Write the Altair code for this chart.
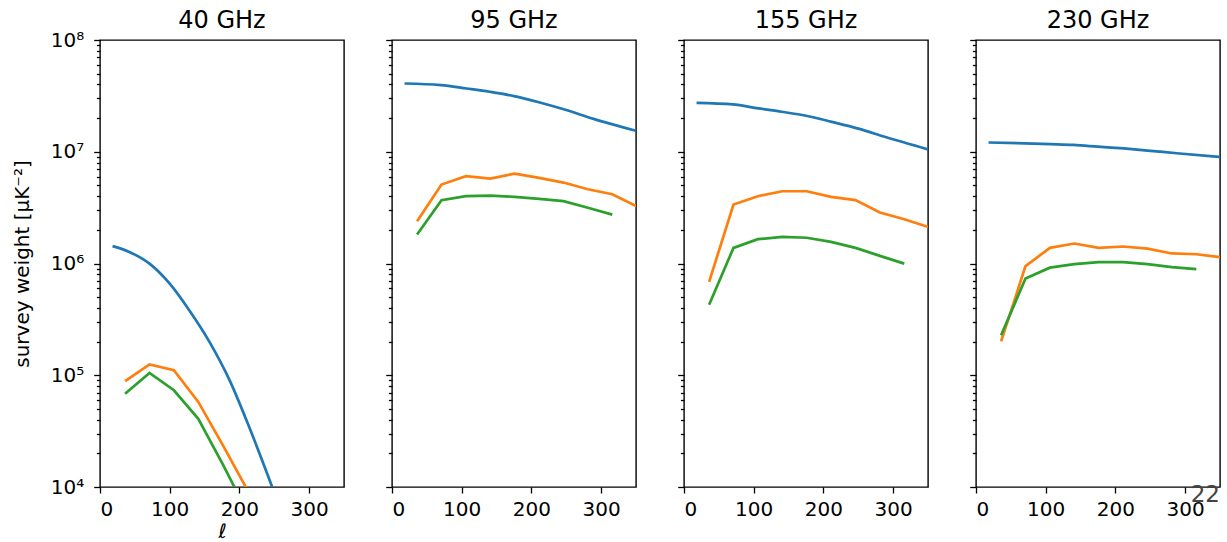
import altair as alt
import pandas as pd

# ---------------- data ----------------
PANELS = ["40 GHz", "95 GHz", "155 GHz", "230 GHz"]
SERIES = ["series 1", "series 2", "series 3"]
COLORS = ["#1f77b4", "#ff7f0e", "#2ca02c"]

# smooth (blue) curves
BLUE_ELL_40 = [18, 42, 71, 100, 128, 157, 186, 214, 247]
BLUE_40 = [1.43e6, 1.27e6, 9.97e5, 6.6e5, 3.82e5, 1.99e5, 9.0e4, 3.44e4, 1.0e4]
BLUE_ELL = [18, 70, 107, 140, 175, 212, 250, 288, 350]
BLUE_95 = [4.08e7, 3.95e7, 3.68e7, 3.44e7, 3.15e7, 2.76e7, 2.36e7, 1.98e7, 1.54e7]
BLUE_155 = [2.74e7, 2.65e7, 2.44e7, 2.28e7, 2.10e7, 1.85e7, 1.61e7, 1.36e7, 1.05e7]
BLUE_230 = [1.21e7, 1.19e7, 1.17e7, 1.15e7, 1.11e7, 1.07e7, 1.02e7, 9.7e6, 9.0e6]

# binned (orange, green) curves
BIN_ELL = [36, 71, 106, 141, 176, 211, 246, 281, 316, 351]
ORANGE_40 = [8.84e4, 1.25e5, 1.11e5, 5.77e4, 2.38e4, 9.5e3]
ORANGE_95 = [2.39e6, 5.09e6, 6.04e6, 5.75e6, 6.38e6, 5.83e6, 5.30e6, 4.62e6, 4.17e6, 3.25e6]
ORANGE_155 = [6.84e5, 3.37e6, 4.0e6, 4.43e6, 4.43e6, 3.95e6, 3.69e6, 2.86e6, 2.49e6, 2.12e6]
ORANGE_230 = [2.01e5, 9.46e5, 1.38e6, 1.51e6, 1.38e6, 1.42e6, 1.36e6, 1.23e6, 1.21e6, 1.14e6]
GREEN_40 = [6.84e4, 1.05e5, 7.34e4, 4.08e4, 1.6e4, 6.0e3]
GREEN_95 = [1.82e6, 3.69e6, 4.0e6, 4.05e6, 3.95e6, 3.79e6, 3.61e6, 3.15e6, 2.74e6]
GREEN_155 = [4.28e5, 1.38e6, 1.65e6, 1.73e6, 1.70e6, 1.56e6, 1.38e6, 1.17e6, 9.97e5]
GREEN_230 = [2.28e5, 7.33e5, 9.18e5, 9.86e5, 1.03e6, 1.03e6, 9.86e5, 9.27e5, 8.9e5]

X_TICKS = [0, 100, 200, 300]
PAGE_NUMBER = "22"

BLUE = [(BLUE_ELL_40, BLUE_40), (BLUE_ELL, BLUE_95), (BLUE_ELL, BLUE_155), (BLUE_ELL, BLUE_230)]
ORANGE = [ORANGE_40, ORANGE_95, ORANGE_155, ORANGE_230]
GREEN = [GREEN_40, GREEN_95, GREEN_155, GREEN_230]

# ---------------- chart ----------------
FONT = "DejaVu Sans"
W, H = 244, 447

y_tick_values = [m * 10 ** d for d in range(4, 8) for m in range(1, 10)] + [1e8]
MAJOR = "abs(log(datum.value)/LN10 - round(log(datum.value)/LN10)) < 0.001"
label_expr = (
    f"({MAJOR}) ? '10' + ['⁰','¹','²','³','⁴','⁵','⁶','⁷','⁸','⁹'][round(log(datum.value)/LN10)] : ''"
)

color = alt.Color("series:N", scale=alt.Scale(domain=SERIES, range=COLORS), legend=None)


def make_panel(i):
    bx, by = BLUE[i]
    blue_df = pd.DataFrame({"ell": bx, "w": by, "series": SERIES[0]})
    rows = []
    for s, vals in ((SERIES[1], ORANGE[i]), (SERIES[2], GREEN[i])):
        for e, v in zip(BIN_ELL, vals):
            rows.append({"ell": e, "w": v, "series": s})
    bin_df = pd.DataFrame(rows)

    x = alt.X(
        "ell:Q",
        scale=alt.Scale(domain=[0, 350], nice=False, zero=False),
        axis=alt.Axis(
            values=X_TICKS,
            title="ℓ" if i == 0 else None,
            titleFont=FONT,
            titleFontSize=20,
            titleFontStyle="italic",
            titleFontWeight="normal",
            titleColor="#000",
            titlePadding=2,
            tickSize=6,
            labelPadding=6,
            format="d",
        ),
    )
    y = alt.Y(
        "w:Q",
        scale=alt.Scale(type="log", domain=[1e4, 1e8], nice=False),
        axis=alt.Axis(
            values=y_tick_values,
            labels=(i == 0),
            labelExpr=label_expr,
            labelOverlap=False,
            labelPadding=10,
            tickSize={"condition": {"test": MAJOR, "value": 6.3}, "value": 3.6},
            title="survey weight [μK⁻²]" if i == 0 else None,
            titleFont=FONT,
            titleFontSize=20,
            titleFontWeight="normal",
            titleColor="#000",
            titlePadding=18,
        ),
    )

    blue = alt.Chart(blue_df).mark_line(
        interpolate="monotone", clip=True, strokeWidth=2.7
    ).encode(x=x, y=y, color=color)
    bins = alt.Chart(bin_df).mark_line(clip=True, strokeWidth=2.7).encode(
        x=x, y=y, color=color, detail="series:N"
    )
    title = alt.Chart(pd.DataFrame({"t": [PANELS[i]]})).mark_text(
        align="center", baseline="alphabetic", font=FONT, fontSize=24, color="#000"
    ).encode(text="t:N", x=alt.value(W / 2), y=alt.value(-12))
    layers = [blue, bins, title]
    if i == 3:
        txt = alt.Chart(pd.DataFrame({"t": [PAGE_NUMBER]})).mark_text(
            align="right", baseline="alphabetic", font=FONT, fontSize=23, color="#444"
        ).encode(text="t:N", x=alt.value(W), y=alt.value(462))
        layers.append(txt)
    return alt.layer(*layers).properties(width=W, height=H)


chart = (
    alt.hconcat(*[make_panel(i) for i in range(4)], spacing=48, bounds="flush")
    .properties(padding={"left": 11, "top": 8, "right": 1, "bottom": 0}, background="white")
    .configure_view(stroke="black", strokeWidth=1.4)
    .configure_axis(
        labelFont=FONT,
        labelFontSize=20,
        labelColor="#000",
        tickColor="#000",
        tickWidth=1.3,
        domain=False,
        grid=False,
    )
)

chart.save("out.html", embed_options={"renderer": "svg", "actions": False})
